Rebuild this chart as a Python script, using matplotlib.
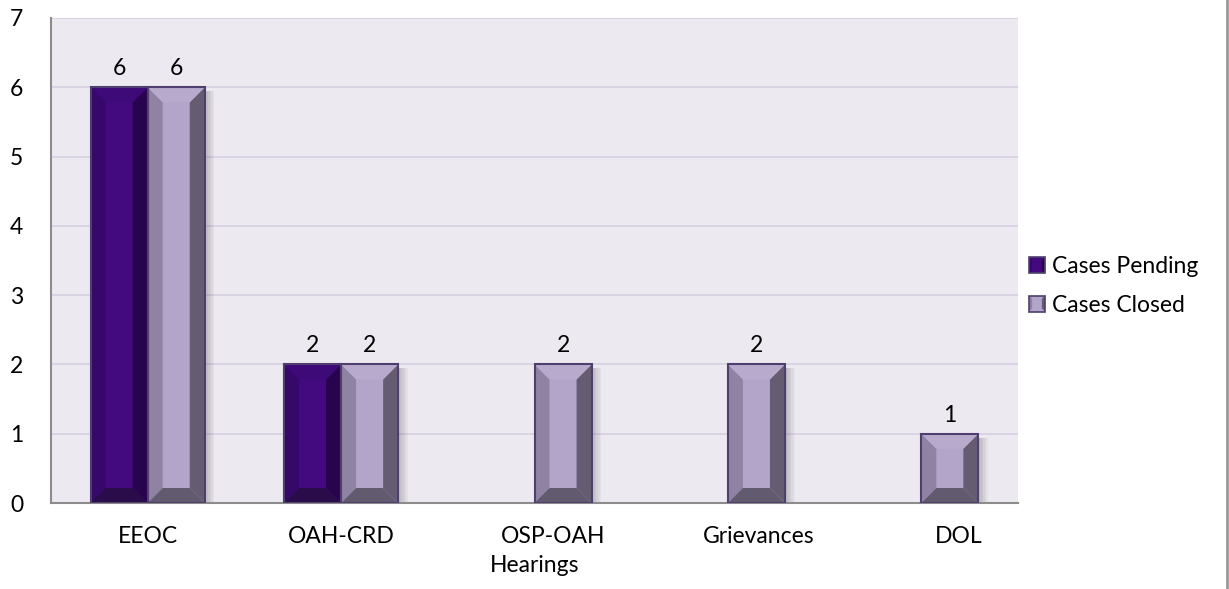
import numpy as np
import matplotlib
matplotlib.use('Agg')
import matplotlib.pyplot as plt
import matplotlib.patches as mpatches
from matplotlib.lines import Line2D
from matplotlib.legend_handler import HandlerBase
import matplotlib.transforms as mtrans

# data
categories = ['EEOC', 'OAH-CRD', 'OSP-OAH\nHearings', 'Grievances', 'DOL']
pending = [6, 2, 0, 0, 0]
closed = [6, 2, 2, 2, 1]
series_names = ['Cases Pending', 'Cases Closed']

plt.rcParams['font.family'] = ['Lato', 'DejaVu Sans']
FS = 16.5

# colours: face, left, right, top, bottom bevels
pend_cols = dict(face='#430a80', left='#36086a', right='#28044f', top='#3e0a77', bottom='#2b0c4b')
clos_cols = dict(face='#b3a5c9', left='#8f82a3', right='#655c72', top='#b8aacd', bottom='#625a6f')
edge = '#4e3f6e'

W, H = 1229, 589
fig = plt.figure(figsize=(W / 100, H / 100), dpi=100)
ax = fig.add_axes([51 / W, (H - 503) / H, (1018 - 51) / W, (503 - 18) / H])
ax.set_facecolor('#ece9f0')
ax.set_xlim(-0.5, len(categories) - 0.5)
ax.set_ylim(0, 7)
ax.set_yticks(range(8))
ax.yaxis.grid(True, color='#d9d1e3', lw=1.3)
ax.set_axisbelow(True)
for s in ['top', 'right']:
    ax.spines[s].set_visible(False)
ax.spines['left'].set_color('#8c8c8c')
ax.spines['bottom'].set_color('#8c8c8c')
ax.spines['left'].set_linewidth(1.5)
ax.spines['bottom'].set_linewidth(1.5)
ax.tick_params(axis='both', length=0, labelsize=FS)
ax.tick_params(axis='y', pad=20)
for lab in ax.get_yticklabels():
    lab.set_horizontalalignment('right')
ax.set_xticks([])

# pixel -> data scale
pxx = (len(categories)) / (1018 - 51)
pxy = 7 / (503 - 18)
bev = 15
bw = 0.295


def bevel_bar(x0, h, cols):
    if h <= 0:
        return
    x1 = x0 + bw
    dx, dy = bev * pxx, bev * pxy
    # shadow
    for k in range(6):
        ax.add_patch(mpatches.Rectangle((x1, 0), (k + 1) * 1.6 * pxx, h - 4 * pxy,
                                        fc='#000000', alpha=0.035, lw=0, zorder=2))
    ax.add_patch(mpatches.Rectangle((x0, 0), bw, h, fc=cols['face'], lw=0, zorder=3))
    polys = [
        ('left', [(x0, 0), (x0 + dx, dy), (x0 + dx, h - dy), (x0, h)]),
        ('right', [(x1, 0), (x1 - dx, dy), (x1 - dx, h - dy), (x1, h)]),
        ('top', [(x0, h), (x0 + dx, h - dy), (x1 - dx, h - dy), (x1, h)]),
        ('bottom', [(x0, 0), (x0 + dx, dy), (x1 - dx, dy), (x1, 0)]),
    ]
    for key, pts in polys:
        ax.add_patch(mpatches.Polygon(pts, closed=True, fc=cols[key], lw=0, zorder=3))
    ax.add_patch(mpatches.Rectangle((x0, 0), bw, h, fc='none', ec=edge, lw=1.5, zorder=4))
    ax.text(x0 + bw / 2, h + 8 * pxy, str(h), ha='center', va='bottom', fontsize=FS, zorder=5)


x = np.arange(len(categories))
for i in x:
    bevel_bar(i - bw, pending[i], pend_cols)
    bevel_bar(i, closed[i], clos_cols)

# category labels (px shift of each label, as in the reference)
shift = [0, 0, 0, 31, 37]
trans = mtrans.blended_transform_factory(ax.transData, ax.transAxes)
for i, c in enumerate(categories):
    off = mtrans.ScaledTranslation(shift[i] / 100, 0, fig.dpi_scale_trans)
    if '\n' in c:
        l1, l2 = c.split('\n')
        ax.text(i, -0.070, l1, transform=trans + mtrans.ScaledTranslation(19 / 100, 0, fig.dpi_scale_trans),
                ha='center', va='center', fontsize=FS)
        ax.text(i, -0.128, l2, transform=trans, ha='center', va='center', fontsize=FS)
    else:
        ax.text(i, -0.070, c, transform=trans + off, ha='center', va='center', fontsize=FS)


# legend
class BevelHandler(HandlerBase):
    def create_artists(self, legend, orig, xd, yd, width, height, fontsize, trans):
        cols = orig.cols
        s = height * 1.0
        x0 = xd + width - s
        y0 = yd - (s - height) / 2
        b = s * 0.2
        arts = [mpatches.Rectangle((x0, y0), s, s, fc=cols['face'], lw=0)]
        arts.append(mpatches.Polygon([(x0, y0), (x0 + b, y0 + b), (x0 + b, y0 + s - b), (x0, y0 + s)], fc=cols['left'], lw=0))
        arts.append(mpatches.Polygon([(x0 + s, y0), (x0 + s - b, y0 + b), (x0 + s - b, y0 + s - b), (x0 + s, y0 + s)], fc=cols['right'], lw=0))
        arts.append(mpatches.Rectangle((x0, y0), s, s, fc='none', ec=edge, lw=1.2))
        for a in arts:
            a.set_transform(trans)
        return arts


h1 = mpatches.Patch(label=series_names[0]); h1.cols = pend_cols
h2 = mpatches.Patch(label=series_names[1]); h2.cols = clos_cols
fig.legend(handles=[h1, h2], loc='center left', bbox_to_anchor=(1029 / W, 1 - 286 / H),
           frameon=False, fontsize=FS, handler_map={mpatches.Patch: BevelHandler()},
           handlelength=0.7, handletextpad=0.3, labelspacing=0.75, borderaxespad=0,
           borderpad=0)

# outer right border line
fig.add_artist(Line2D([1226.5 / W, 1226.5 / W], [0, 1], color='#999999', lw=2))

fig.savefig('out.png', dpi=100)
